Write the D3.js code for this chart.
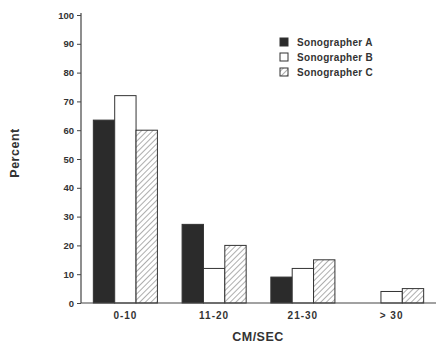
<!DOCTYPE html>
<html><head><meta charset="utf-8">
<script src="https://cdn.jsdelivr.net/npm/d3@7"></script>
<style>body{margin:0;background:#fff}svg{display:block}text{font-family:"Liberation Sans",Arial,sans-serif;font-weight:bold;fill:#333}</style>
</head><body>
<script>
const categories = ["0-10", "11-20", "21-30", "> 30"];
const seriesNames = ["Sonographer A", "Sonographer B", "Sonographer C"];
const sonographerA = [63.5, 27.3, 9, 0];
const sonographerB = [72, 12, 12, 4];
const sonographerC = [60, 20, 15, 5];
const yTicks = [0, 10, 20, 30, 40, 50, 60, 70, 80, 90, 100];
const series = [sonographerA, sonographerB, sonographerC];

const W = 436, H = 346;
const svg = d3.select("body").append("svg").attr("width", W).attr("height", H);
const defs = svg.append("defs");
const pat = defs.append("pattern").attr("id", "hatch").attr("patternUnits", "userSpaceOnUse")
  .attr("width", 4).attr("height", 4).attr("patternTransform", "rotate(45)");
pat.append("rect").attr("width", 4).attr("height", 4).attr("fill", "#fff");
pat.append("line").attr("x1", 0).attr("y1", 0).attr("x2", 0).attr("y2", 4)
  .attr("stroke", "#777").attr("stroke-width", 1.2);

const x0 = d3.scaleBand().domain(categories).range([81, 436]).paddingInner(0.278).paddingOuter(0.139);
const x1 = d3.scaleBand().domain(seriesNames).range([0, x0.bandwidth()]);
const y = d3.scaleLinear().domain([0, 100]).range([303, 15]);

const fills = ["#2b2b2b", "#fff", "url(#hatch)"];
const FF = "'Liberation Sans',Arial,sans-serif";

// y axis
const ya = svg.append("g").attr("transform", "translate(81,0)")
  .call(d3.axisLeft(y).tickValues(yTicks).tickSize(4).tickPadding(3));
ya.select(".domain").attr("stroke", "#444").attr("stroke-width", 1.2).attr("d", "M0,13V303");
ya.selectAll(".tick line").attr("stroke", "#444");
ya.selectAll("text").style("font-size", "9.5px").attr("fill", "#333").style("font-family", FF).style("font-weight", "bold");

// bars
const g = svg.append("g");
categories.forEach((c, i) => {
  series.forEach((s, j) => {
    if (s[i] <= 0) return;
    g.append("rect")
      .attr("x", x0(c) + x1(seriesNames[j]))
      .attr("y", y(s[i]))
      .attr("width", x1.bandwidth())
      .attr("height", y(0) - y(s[i]))
      .attr("fill", fills[j])
      .attr("stroke", "#333").attr("stroke-width", 1);
  });
});

// x axis
const xa = svg.append("g").attr("transform", "translate(0,303)")
  .call(d3.axisBottom(x0).tickSize(0).tickPadding(9));
xa.select(".domain").attr("stroke", "#444").attr("stroke-width", 1.2).attr("d", "M81,0H436");
xa.selectAll("text").style("font-size", "10px").style("letter-spacing", "1px").attr("fill", "#333")
  .style("font-family", FF).style("font-weight", "bold");

// axis titles
svg.append("text").attr("transform", "translate(19,153) rotate(-90)").attr("text-anchor", "middle")
  .style("font-size", "12.5px").style("letter-spacing", "0.5px").text("Percent");
svg.append("text").attr("x", 258).attr("y", 341).attr("text-anchor", "middle")
  .style("font-size", "12.5px").style("letter-spacing", "0.5px").text("CM/SEC");

// legend
const lg = svg.append("g");
seriesNames.forEach((n, j) => {
  const yy = 42 + j * 15;
  lg.append("rect").attr("x", 280).attr("y", yy - 4).attr("width", 8).attr("height", 8)
    .attr("fill", fills[j]).attr("stroke", "#333").attr("stroke-width", 1);
  lg.append("text").attr("x", 297).attr("y", yy + 3.5).style("font-size", "10px").style("letter-spacing", "0.3px").text(n);
});
</script>
</body></html>
